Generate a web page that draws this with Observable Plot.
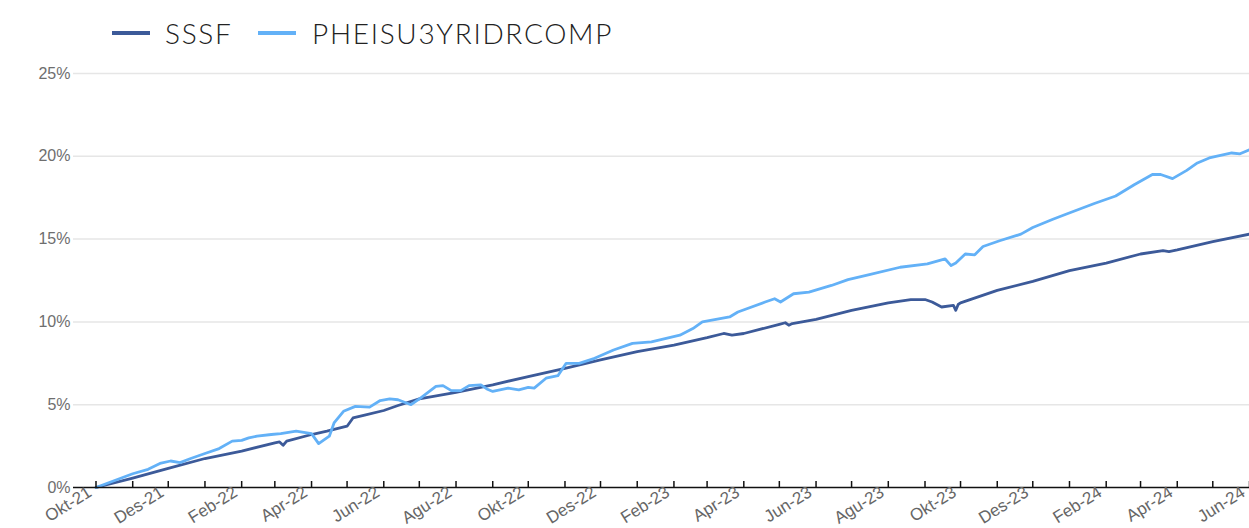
<!DOCTYPE html>
<html>
<head>
<meta charset="utf-8">
<script src="https://cdn.jsdelivr.net/npm/d3@7"></script>
<script src="https://cdn.jsdelivr.net/npm/@observablehq/plot@0.6"></script>
<style>
  body { margin: 0; background: #fff; font-family: Lato, "Open Sans", sans-serif; }
  #legend { position: relative; height: 60px; width: 1249px; }
  .sw { position: absolute; top: 31px; width: 38px; height: 4px; }
  .lt { position: absolute; top: 15px; font-size: 28px; font-weight: 300; color: #222; letter-spacing: 1.7px; line-height: 36px; }
</style>
</head>
<body>
<div id="legend"></div>
<div id="chart"></div>
<script>
const seriesNames = ["SSSF", "PHEISU3YRIDRCOMP"];
const seriesColors = ["#3c5a99", "#63b1f7"];

const sssfDates = ["2021-10-01","2021-11-01","2021-12-01","2022-01-01","2022-02-01","2022-03-01","2022-03-05","2022-03-08","2022-03-11","2022-04-01","2022-04-14","2022-05-01","2022-05-06","2022-05-15","2022-06-01","2022-06-13","2022-07-01","2022-08-01","2022-09-01","2022-10-01","2022-11-01","2022-12-01","2023-01-01","2023-02-01","2023-03-01","2023-03-15","2023-03-22","2023-04-01","2023-05-01","2023-05-06","2023-05-09","2023-05-12","2023-06-01","2023-07-01","2023-08-01","2023-08-20","2023-09-01","2023-09-07","2023-09-15","2023-09-25","2023-09-27","2023-09-29","2023-10-01","2023-11-01","2023-12-01","2024-01-01","2024-02-01","2024-03-01","2024-03-20","2024-03-25","2024-04-01","2024-05-01","2024-06-01"];
const sssfValues = [0.0,0.57,1.15,1.75,2.2,2.7,2.75,2.55,2.8,3.2,3.4,3.7,4.2,4.35,4.65,4.95,5.35,5.75,6.2,6.7,7.2,7.7,8.2,8.6,9.05,9.3,9.2,9.3,9.85,9.95,9.8,9.9,10.15,10.7,11.15,11.35,11.35,11.2,10.9,11.0,10.7,11.05,11.15,11.9,12.45,13.1,13.55,14.1,14.3,14.25,14.35,14.85,15.3];

const pheDates = ["2021-10-01","2021-11-01","2021-11-14","2021-11-24","2021-12-03","2021-12-11","2021-12-20","2022-01-01","2022-01-13","2022-01-24","2022-02-01","2022-02-07","2022-02-14","2022-02-26","2022-03-06","2022-03-19","2022-04-01","2022-04-07","2022-04-16","2022-04-20","2022-04-28","2022-05-08","2022-05-20","2022-05-29","2022-06-06","2022-06-13","2022-06-24","2022-07-02","2022-07-15","2022-07-21","2022-07-28","2022-08-05","2022-08-12","2022-08-22","2022-08-27","2022-09-01","2022-09-14","2022-09-23","2022-10-01","2022-10-06","2022-10-16","2022-10-26","2022-11-02","2022-11-13","2022-11-26","2022-12-12","2022-12-28","2023-01-13","2023-02-06","2023-02-17","2023-02-25","2023-03-20","2023-03-27","2023-04-19","2023-04-27","2023-05-02","2023-05-13","2023-05-26","2023-06-14","2023-06-28","2023-07-16","2023-08-11","2023-09-03","2023-09-18","2023-09-23","2023-09-27","2023-10-05","2023-10-13","2023-10-20","2023-11-03","2023-11-21","2023-12-01","2023-12-18","2023-12-29","2024-01-22","2024-02-09","2024-02-25","2024-03-11","2024-03-18","2024-03-28","2024-04-09","2024-04-18","2024-04-28","2024-05-17","2024-05-24","2024-06-01"];
const pheValues = [0.0,0.83,1.1,1.45,1.6,1.5,1.75,2.05,2.35,2.8,2.85,3.0,3.1,3.2,3.25,3.4,3.25,2.65,3.1,3.9,4.6,4.9,4.85,5.25,5.35,5.3,5.0,5.4,6.1,6.15,5.85,5.85,6.15,6.2,5.95,5.8,6.0,5.9,6.05,6.0,6.6,6.75,7.5,7.5,7.8,8.3,8.7,8.8,9.2,9.6,10.0,10.3,10.6,11.2,11.4,11.2,11.7,11.8,12.2,12.55,12.85,13.3,13.5,13.8,13.4,13.55,14.1,14.05,14.55,14.9,15.3,15.7,16.2,16.5,17.15,17.6,18.3,18.9,18.9,18.65,19.15,19.6,19.9,20.2,20.15,20.4];

const monthNames = ["Jan","Feb","Mar","Apr","Mei","Jun","Jul","Agu","Sep","Okt","Nov","Des"];
const yTicks = [0, 5, 10, 15, 20, 25];

const parse = d3.utcParse("%Y-%m-%d");
const data = [
  ...sssfDates.map((d, i) => ({date: parse(d), value: sssfValues[i], series: seriesNames[0]})),
  ...pheDates.map((d, i) => ({date: parse(d), value: pheValues[i], series: seriesNames[1]}))
];

// legend
const legend = document.getElementById("legend");
const swX = [112, 258], txX = [165, 312];
seriesNames.forEach((n, i) => {
  const s = document.createElement("div");
  s.className = "sw"; s.style.left = swX[i] + "px"; s.style.background = seriesColors[i];
  const t = document.createElement("div");
  t.className = "lt"; t.style.left = txX[i] + "px"; t.textContent = n;
  legend.append(s, t);
});

const xTicks = d3.utcMonth.range(parse("2021-10-01"), parse("2024-06-02"));
const axisFont = "'Liberation Sans', Arial, sans-serif";

const chart = Plot.plot({
  width: 1249,
  height: 468,
  marginLeft: 73,
  marginRight: 0,
  marginTop: 13,
  marginBottom: 41,
  style: {fontFamily: axisFont, fontSize: "16px", background: "#fff", overflow: "visible"},
  x: {type: "utc", domain: [parse("2021-09-12"), parse("2024-06-01")]},
  y: {domain: [0, 25]},
  color: {domain: seriesNames, range: seriesColors},
  marks: [
    Plot.ruleY(yTicks.filter(d => d > 0), {stroke: "#e6e6e6", strokeWidth: 1.5}),
    Plot.axisY(yTicks, {tickSize: 0, tickPadding: 3, tickFormat: d => d + "%", fill: "#6e6e6e", fontSize: 16, label: null}),
    Plot.lineY(data, {x: "date", y: "value", z: "series", stroke: "series", strokeWidth: 2.8, curve: "linear"}),
    Plot.ruleY([0], {stroke: "#111", strokeWidth: 1.5}),
    Plot.ruleX(xTicks, {y1: 0, y2: 0, insetTop: -6, stroke: "#111", strokeWidth: 1.5}),
    Plot.axisX(xTicks, {
      tickSize: 0, tickPadding: 3, dx: -6,
      tickRotate: -32, fill: "#666", fontSize: 17, label: null,
      tickFormat: d => d.getUTCMonth() % 2 === 1 ? monthNames[d.getUTCMonth()] + "-" + String(d.getUTCFullYear()).slice(2) : ""
    })
  ]
});
document.getElementById("chart").append(chart);
</script>
</body>
</html>
